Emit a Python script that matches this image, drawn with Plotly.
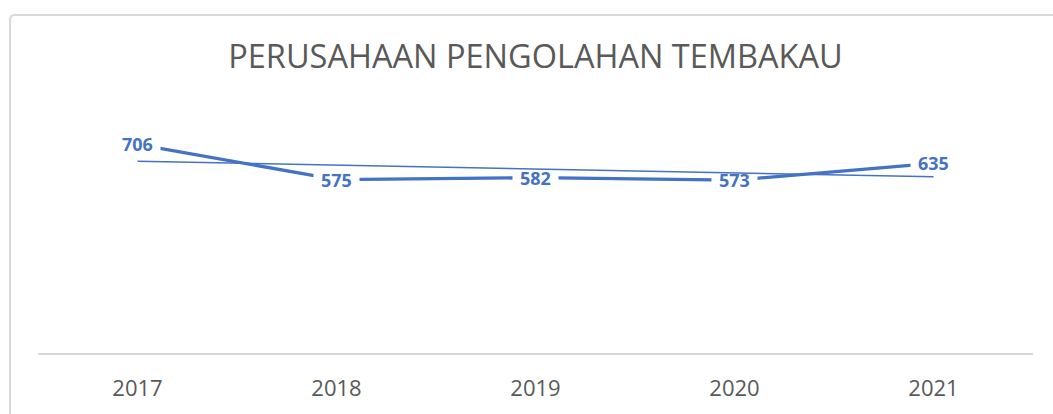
import numpy as np
import plotly.graph_objects as go

years = ["2017", "2018", "2019", "2020", "2021"]
values = [706, 575, 582, 573, 635]
title_text = "PERUSAHAAN PENGOLAHAN TEMBAKAU"

blue = "#4472C4"
gray = "#595959"

# linear trendline (Excel-style) computed from the data
xi = np.arange(len(values))
slope, intercept = np.polyfit(xi, values, 1)
trend = slope * xi + intercept

fig = go.Figure()
fig.add_trace(go.Scatter(x=years, y=values, mode="lines",
                         line=dict(color=blue, width=3.3), showlegend=False))

# white boxes behind the data labels (cover the main line only)
for i, v in enumerate(values):
    fig.add_shape(type="rect", xref="x", yref="y",
                  xsizemode="pixel", ysizemode="pixel",
                  xanchor=i, yanchor=v, x0=-23, x1=23, y0=-10, y1=10,
                  fillcolor="white", line=dict(width=0), layer="above")

# trendline drawn above the label boxes
fig.add_shape(type="line", xref="x", yref="y",
              x0=xi[0], y0=trend[0], x1=xi[-1], y1=trend[-1],
              line=dict(color=blue, width=1.5), layer="above")

for i, v in enumerate(values):
    fig.add_annotation(x=i, y=v, text=f"<b>{v}</b>", showarrow=False,
                       xref="x", yref="y",
                       font=dict(family="Open Sans", size=18, color=blue))

# chart border (Excel chart area): only left and top edges are visible
W, H = 1053, 414
l, r, t, b = 38, 20, 114, 56
pw, ph = W - l - r, H - t - b
def px_x(p):
    return (p - l) / pw
def px_y(p):
    return (H - b - p) / ph
x0, yt, yb, xr, rad = 10, 13, 430, 1070, 5
border_path = (f"M {px_x(x0)},{px_y(yb)} L {px_x(x0)},{px_y(yt + rad)} "
               f"Q {px_x(x0)},{px_y(yt)} {px_x(x0 + rad)},{px_y(yt)} "
               f"L {px_x(xr)},{px_y(yt)}")
fig.add_shape(type="path", xref="paper", yref="paper", path=border_path,
              line=dict(color="#d9d9d9", width=2), layer="below")

fig.update_layout(
    width=W, height=H,
    margin=dict(l=l, r=r, t=t, b=b),
    paper_bgcolor="white", plot_bgcolor="white",
    title=dict(text=title_text, x=0.5, xref="paper", xanchor="center",
               y=1 - 57 / H, yref="container", yanchor="middle",
               font=dict(family="Open Sans", size=32.5, color=gray)),
    xaxis=dict(type="category", range=[-0.5, 4.5], showline=True,
               linecolor="#d9d9d9", linewidth=1.5, showgrid=False,
               ticks="", ticklabelstandoff=15,
               tickfont=dict(family="Open Sans", size=22, color=gray),
               zeroline=False, fixedrange=True),
    yaxis=dict(range=[-70, 819], visible=False, showgrid=False,
               zeroline=False, fixedrange=True),
)

fig.write_html("out.html", config={"displayModeBar": False},
               post_script="document.body.style.margin='0px';document.body.style.overflow='hidden';")
